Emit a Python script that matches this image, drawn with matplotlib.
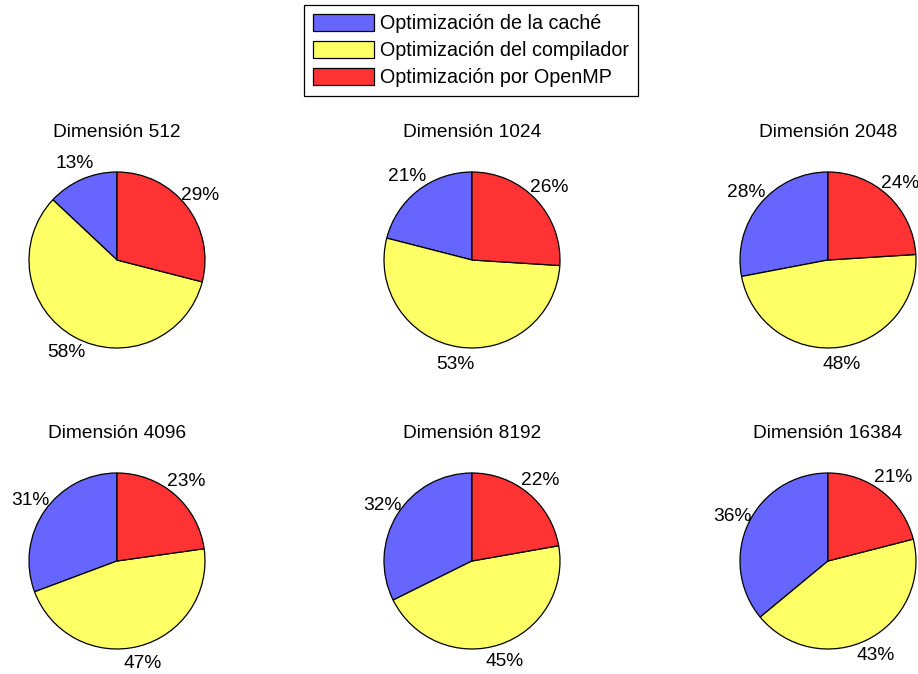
import matplotlib
matplotlib.use('Agg')
import matplotlib.pyplot as plt

plt.rcParams['font.family'] = ['Liberation Sans', 'DejaVu Sans']

dims = [512, 1024, 2048, 4096, 8192, 16384]
cache = [13, 21, 28, 31, 32, 36]
compilador = [58, 53, 48, 47, 45, 43]
openmp = [29, 26, 24, 23, 22, 21]
series_names = ['Optimización de la caché', 'Optimización del compilador',
                'Optimización por OpenMP']
colors = ['#6666FF', '#FFFF66', '#FF3333']

W, H = 918, 674
fig = plt.figure(figsize=(W / 100, H / 100), dpi=100)

# pie centres in pixels
centres = [(117, 260), (472, 260), (828, 260),
           (117, 561), (472, 561), (828, 561)]
r = 88

wedges_first = None
for i, d in enumerate(dims):
    cx, cy = centres[i]
    ax = fig.add_axes([(cx - r) / W, (H - cy - r) / H, 2 * r / W, 2 * r / H])
    vals = [cache[i], compilador[i], openmp[i]]
    labels = [f'{v}%' for v in vals]
    wedges, texts = ax.pie(vals, labels=labels, colors=colors, startangle=90,
                           counterclock=True, labeldistance=1.2,
                           wedgeprops=dict(edgecolor='black', linewidth=0.9),
                           textprops=dict(fontsize=13.8))
    for t in texts:
        t.set_horizontalalignment('center')
        t.set_verticalalignment('center')
    ax.set_xlim(-1, 1)
    ax.set_ylim(-1, 1)
    ax.text(0, 1.45, f'Dimensión {d}', ha='center', va='center', fontsize=13.8)
    if wedges_first is None:
        wedges_first = wedges

leg = fig.legend(wedges_first, series_names, loc='upper center',
                 bbox_to_anchor=(0.513, 0.993), fontsize=14.2, fancybox=False,
                 edgecolor='black', framealpha=1, handlelength=3.1,
                 handleheight=1.0, labelspacing=0.38, handletextpad=0.3,
                 borderpad=0.45, borderaxespad=0)
leg.get_frame().set_linewidth(0.9)

fig.savefig('out.png', dpi=100, facecolor='white')
